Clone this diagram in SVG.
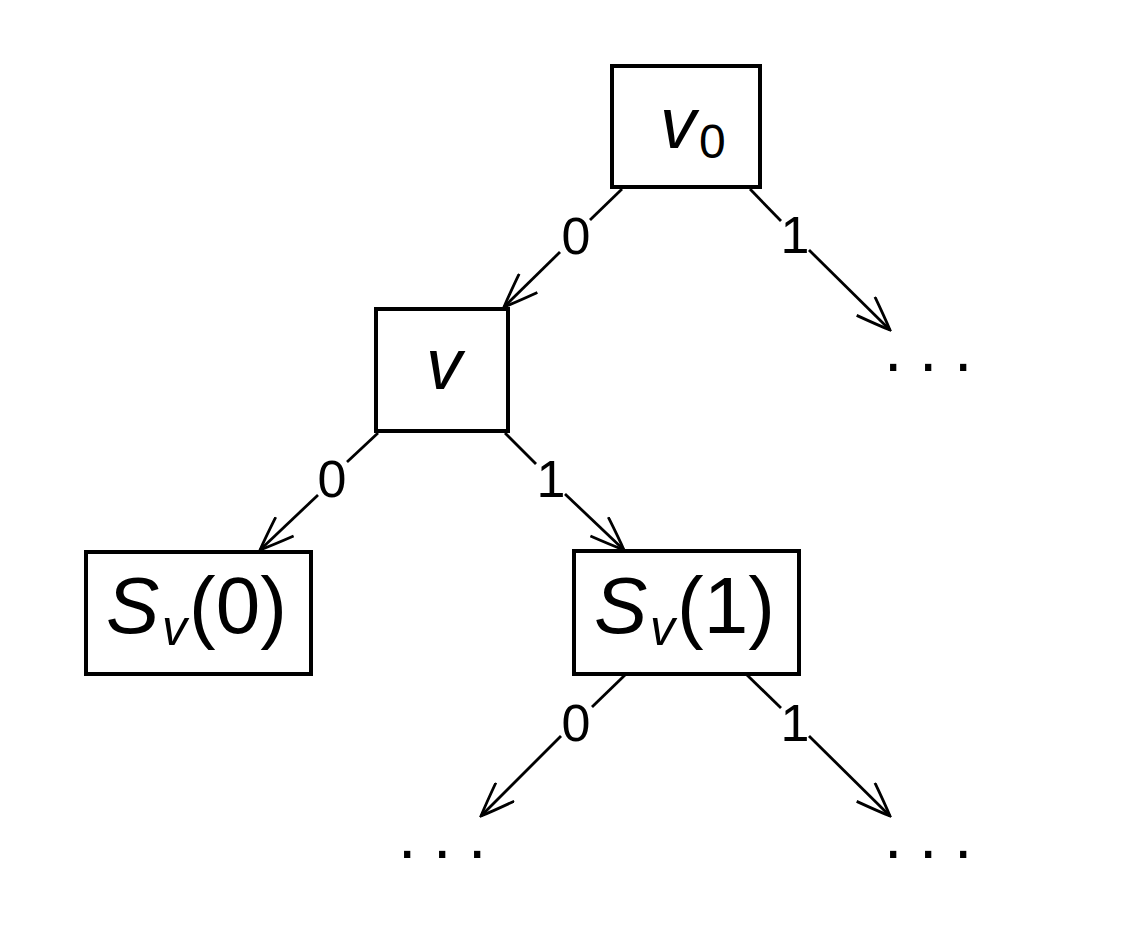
<svg xmlns="http://www.w3.org/2000/svg" width="1132" height="940" viewBox="0 0 1132 940">
<defs>
<style>
.box{fill:none;stroke:#000;stroke-width:4}
.edge{fill:none;stroke:#000;stroke-width:2.8;stroke-linecap:butt}
.t{font-family:"Liberation Sans",Arial,sans-serif;fill:#000}
.lbl{font-size:52px;text-anchor:middle}
.big{font-size:80px}
.it{font-style:italic}
.dots{font-size:66px;letter-spacing:16.7px}
</style>
<marker id="arr" viewBox="-36 -14 38 28" refX="0" refY="0" markerWidth="38" markerHeight="28" markerUnits="userSpaceOnUse" orient="auto">
<path d="M -34 -13 Q -12 -5 0 0 Q -12 5 -34 13" fill="none" stroke="#000" stroke-width="2.8"/>
</marker>
</defs>
<rect width="1132" height="940" fill="#fff"/>
<g id="edges">
<line class="edge" x1="622" y1="189" x2="590" y2="220"/>
<line class="edge" x1="560" y1="252" x2="504" y2="307" marker-end="url(#arr)"/>
<text class="t lbl" x="576" y="254">0</text>
<line class="edge" x1="750" y1="189" x2="781" y2="221"/>
<line class="edge" x1="809" y1="250" x2="890" y2="330" marker-end="url(#arr)"/>
<text class="t lbl" x="795" y="253">1</text>
<line class="edge" x1="378" y1="433" x2="347" y2="462"/>
<line class="edge" x1="318" y1="495" x2="260" y2="550" marker-end="url(#arr)"/>
<text class="t lbl" x="332" y="497">0</text>
<line class="edge" x1="505" y1="433" x2="536" y2="464"/>
<line class="edge" x1="565" y1="494" x2="624" y2="550" marker-end="url(#arr)"/>
<text class="t lbl" x="551" y="497">1</text>
<line class="edge" x1="625" y1="675" x2="592" y2="707"/>
<line class="edge" x1="561" y1="736" x2="481" y2="816" marker-end="url(#arr)"/>
<text class="t lbl" x="576" y="741">0</text>
<line class="edge" x1="747" y1="675" x2="781" y2="708"/>
<line class="edge" x1="809" y1="736" x2="890" y2="816" marker-end="url(#arr)"/>
<text class="t lbl" x="795" y="741">1</text>
</g>
<g id="v0">
<rect class="box" x="612" y="66" width="148" height="121"/>
<text class="t"><tspan class="it" x="660" y="148" font-size="72">v</tspan><tspan x="699" y="158" font-size="48">0</tspan></text>
</g>
<g id="v">
<rect class="box" x="376" y="309" width="132" height="122"/>
<text class="t it" x="426" y="389" font-size="72">v</text>
</g>
<g id="Sv0">
<rect class="box" x="86" y="552" width="225" height="122"/>
<text class="t big"><tspan class="it" x="106" y="633">S</tspan><tspan class="it" x="162" y="645" font-size="50">v</tspan><tspan x="189" y="633">(0)</tspan></text>
</g>
<g id="Sv1">
<rect class="box" x="574" y="551" width="225" height="123"/>
<text class="t big"><tspan class="it" x="594" y="633">S</tspan><tspan class="it" x="650" y="645" font-size="50">v</tspan><tspan x="677" y="633">(1)</tspan></text>
</g>
<g id="dots-right-top"><text class="t dots" x="884" y="371">...</text></g>
<g id="dots-left-bottom"><text class="t dots" x="398" y="858">...</text></g>
<g id="dots-right-bottom"><text class="t dots" x="884" y="858">...</text></g>
</svg>
